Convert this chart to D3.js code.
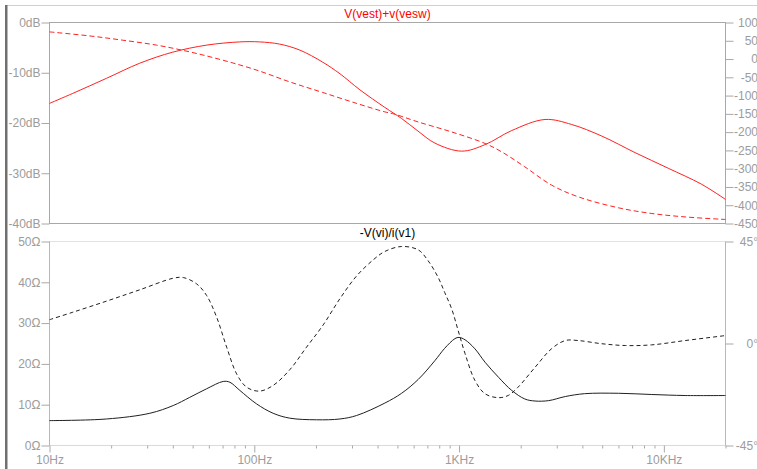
<!DOCTYPE html>
<html><head><meta charset="utf-8">
<script src="https://cdn.jsdelivr.net/npm/d3@7"></script>
<style>
html,body{margin:0;padding:0;background:#fff;overflow:hidden}
svg{display:block;font-family:"Liberation Sans",Arial,sans-serif;font-size:12px}
</style></head>
<body>
<svg id="c" width="757" height="469"></svg>
<script>
// ---------- data ----------
const topTitle = "V(vest)+v(vesw)";
const botTitle = "-V(vi)/i(v1)";

const xTickValues = [10, 100, 1000, 10000];
const xTickLabels = ["10Hz", "100Hz", "1KHz", "10KHz"];

const dbTicks = [0, -10, -20, -30, -40];
const degTopTicks = [100, 50, 0, -50, -100, -150, -200, -250, -300, -350, -400, -450];
const ohmTicks = [0, 10, 20, 30, 40, 50];
const degBotTicks = [45, 0, -45];

// top panel: magnitude (dB)
const magTopFreq = [10, 13, 19, 27.6, 40, 58.6, 85, 106, 133, 167, 216, 262, 328, 434, 524, 630, 762, 1030, 1340, 1808, 2630, 3550, 4975, 7240, 10500, 15300, 20000];
const magTopVal  = [-16.1, -14.1, -11.1, -8.1, -5.9, -4.5, -3.86, -3.86, -4.3, -5.5, -7.9, -10.2, -13.4, -16.9, -19.1, -21.6, -24.0, -25.6, -24.3, -21.5, -19.3, -20.3, -22.6, -25.9, -29.0, -32.2, -35.2];

// top panel: phase (deg)
const phTopFreq = [10, 15.7, 22.8, 33.4, 48.4, 70.3, 103, 149, 216, 317, 434, 486, 630, 920, 1340, 1615, 2095, 2830, 3820, 6000, 8730, 12700, 20000];
const phTopVal  = [74.3, 63.3, 51.6, 38, 19.6, -3.2, -30.5, -62.5, -91.5, -121.6, -144.6, -151, -172, -199.4, -231, -254, -295, -345, -377, -407, -422.6, -432, -439];

// bottom panel: impedance magnitude (ohm)
const zFreq = [10, 19, 30.9, 40.2, 48.4, 58.5, 70.5, 76, 85, 102.6, 123.6, 149, 201, 262, 316, 434, 524, 632, 762, 850, 955, 1000, 1070, 1195, 1340, 1560, 1808, 2095, 2350, 2740, 3300, 4100, 6000, 8730, 12700, 20000];
const zVal  = [6.1, 6.5, 7.9, 9.8, 11.8, 13.9, 15.7, 15.5, 13.5, 10.2, 7.9, 6.7, 6.3, 6.5, 7.35, 10.4, 12.8, 16.2, 20.8, 23.8, 26.2, 26.5, 25.9, 23.7, 20.4, 16.7, 13.5, 11.4, 10.9, 11.0, 12.0, 12.7, 12.8, 12.5, 12.25, 12.25];

// bottom panel: impedance phase (deg)
const zphFreq = [10, 13, 19, 27.6, 40.2, 45, 52.3, 58.5, 65.5, 73.3, 82, 91.8, 106, 123.6, 149, 180, 217, 262, 316, 382, 434, 524, 632, 705, 790, 850, 920, 990, 1070, 1195, 1340, 1560, 1740, 1940, 2350, 2830, 3300, 3820, 4975, 6500, 8730, 12700, 20000];
const zphVal  = [10.5, 13.8, 18.7, 23.7, 28.8, 29.1, 26.3, 21.2, 11.6, -1.6, -13.4, -19.3, -21, -18.5, -11.6, -1.6, 8.2, 19.8, 29.8, 37.0, 40.6, 42.8, 41.3, 36.6, 29.2, 22.6, 15.3, 5.7, -4.5, -16.3, -22.2, -23.9, -22.9, -19.3, -10.5, -2.3, 1.3, 1.3, -0.1, -0.9, -0.6, 1.3, 3.5];

// ---------- layout ----------
const svg = d3.select("#c");
const L = 49.5, R = 725.5;
const T1 = 22.5, B1 = 223.5;
const T2 = 241.5, B2 = 445.5;
const gridCol = "#a8a8a8", txtCol = "#9c9c9c";

const x = d3.scaleLog().domain([10, 20000]).range([L, R]);
const yDb = d3.scaleLinear().domain([-40, 0]).range([B1, T1]);
const yDegT = d3.scaleLinear().domain([-450, 100]).range([B1, T1]);
const yOhm = d3.scaleLinear().domain([0, 50]).range([B2, T2]);
const yDegB = d3.scaleLinear().domain([-45, 45]).range([B2, T2]);

// window frame
svg.append("line").attr("x1", 7).attr("x2", 757).attr("y1", 5.5).attr("y2", 5.5).attr("stroke", "#cfcfcf");
svg.append("rect").attr("x", 5).attr("y", 5).attr("width", 2.5).attr("height", 464).attr("fill", "#707070");

// top panel frame
svg.append("rect").attr("x", L).attr("y", T1).attr("width", R - L).attr("height", B1 - T1)
  .attr("fill", "none").attr("stroke", gridCol);

function styleAxis(g) {
  g.select(".domain").remove();
  g.selectAll(".tick line").attr("stroke", gridCol);
  g.selectAll(".tick text").attr("fill", txtCol).style("font-size", "12px")
    .style("font-family", '"Liberation Sans",Arial,sans-serif');
}

// top left axis
svg.append("g").attr("transform", `translate(${L},0)`)
  .call(d3.axisLeft(yDb).tickValues(dbTicks).tickSize(8).tickPadding(1).tickFormat(d => d + "dB"))
  .call(styleAxis);
// top right axis
const gTR = svg.append("g").attr("transform", `translate(${R},0)`)
  .call(d3.axisRight(yDegT).tickValues(degTopTicks).tickSize(8).tickFormat(d => d))
  .call(styleAxis);
gTR.selectAll(".tick text").attr("text-anchor", "end").attr("x", 758 - R);

// bottom panel lines
svg.append("line").attr("x1", L).attr("x2", R).attr("y1", T2).attr("y2", T2)
  .attr("stroke", "#c4c4c4").attr("stroke-dasharray", "1,1");
svg.append("line").attr("x1", L).attr("x2", R).attr("y1", B2).attr("y2", B2)
  .attr("stroke", "#b4b4b4").attr("stroke-dasharray", "1,1");
svg.append("line").attr("x1", L).attr("x2", L).attr("y1", T2).attr("y2", B2).attr("stroke", "#b8b8b8");
svg.append("line").attr("x1", R).attr("x2", R).attr("y1", T2).attr("y2", B2).attr("stroke", "#b8b8b8");

svg.append("g").attr("transform", `translate(${L},0)`)
  .call(d3.axisLeft(yOhm).tickValues(ohmTicks).tickSize(8).tickPadding(1).tickFormat(d => d + "\u03A9"))
  .call(styleAxis);
const gBR = svg.append("g").attr("transform", `translate(${R},0)`)
  .call(d3.axisRight(yDegB).tickValues(degBotTicks).tickSize(8).tickFormat(d => d + "\u00B0"))
  .call(styleAxis);
gBR.selectAll(".tick text").attr("text-anchor", "end").attr("x", 758 - R);

// x axis major + minor ticks
const minor = [];
for (let dec = 10; dec <= 10000; dec *= 10) for (let m = 2; m <= 9; m++) if (dec * m <= 20000) minor.push(dec * m);
svg.append("g").attr("transform", `translate(0,${B2})`)
  .call(d3.axisBottom(x).tickValues(minor).tickSize(3).tickFormat(""))
  .call(styleAxis);
const gX = svg.append("g").attr("transform", `translate(0,${B2})`)
  .call(d3.axisBottom(x).tickValues(xTickValues).tickSize(7).tickPadding(3)
    .tickFormat((d, i) => xTickLabels[i]))
  .call(styleAxis);

// titles
svg.append("text").attr("x", (L + R) / 2).attr("y", 18).attr("text-anchor", "middle")
  .attr("fill", "#ff0000").text(topTitle);
svg.append("text").attr("x", (L + R) / 2).attr("y", 237).attr("text-anchor", "middle")
  .attr("fill", "#000").text(botTitle);

// curves
function curve(fr, vals, ys, color, dash) {
  const pts = fr.map((f, i) => [f, vals[i]]);
  svg.append("path").datum(pts)
    .attr("d", d3.line().x(d => x(d[0])).y(d => ys(d[1])).curve(d3.curveCatmullRom.alpha(0.5)))
    .attr("fill", "none").attr("stroke", color).attr("stroke-width", 1)
    .attr("stroke-dasharray", dash || null);
}
curve(phTopFreq, phTopVal, yDegT, "#ff2020", "5,3");
curve(magTopFreq, magTopVal, yDb, "#ff2020");
curve(zphFreq, zphVal, yDegB, "#202020", "4,3");
curve(zFreq, zVal, yOhm, "#202020");
</script>
</body></html>
